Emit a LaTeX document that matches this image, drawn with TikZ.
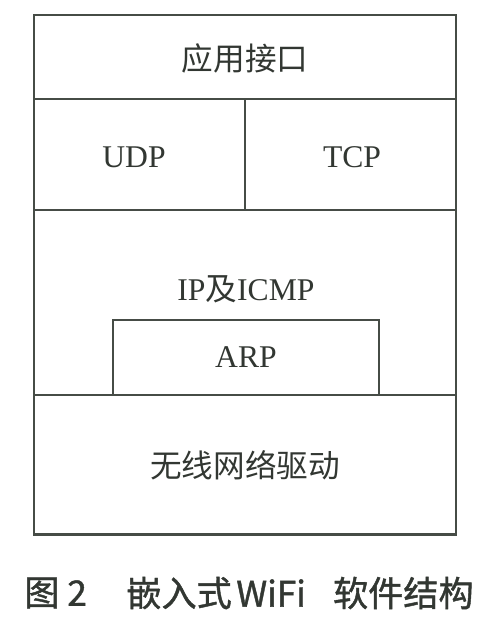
\documentclass[tikz,border=0pt]{standalone}
\usepackage{fontspec}
\usepackage{xcolor}
\usetikzlibrary{positioning}
\setmainfont{Liberation Serif}
\newfontfamily\cjk{Noto Sans CJK SC}
\newfontfamily\cjkcap[FakeBold=1.2]{Noto Sans CJK SC}
\definecolor{stackgray}{RGB}{70,76,70}
\definecolor{stacktext}{RGB}{50,55,50}

\begin{document}
\begin{tikzpicture}[x=0.02cm, y=-0.02cm,
    layer/.style={stackgray, line width=1.7pt},
    lbl/.style={text=stacktext, font=\fontsize{18}{20}\selectfont, inner sep=0pt},
    captext/.style={lbl, font=\fontsize{20}{22}\selectfont\cjkcap}]
    \useasboundingbox (0,0) rectangle (481,622);
    % Layers
    \draw[layer] (34,15) rectangle (456,534);
    \draw[layer] (34,99) -- (456,99);
    \draw[layer] (34,210) -- (456,210);
    \draw[layer] (245,99) -- (245,210);
    \draw[layer] (34,395) -- (456,395);
    \draw[layer] (113,395) -- (113,320) -- (379,320) -- (379,395);
    % Labels
    \node[lbl] (app) at (245,58) {\cjk 应用接口};
    \node[lbl] (udp) at (134,157) {UDP};
    \node[lbl] (tcp) at (352,157) {TCP};
    \node[lbl] (ip) at (246,289) {IP{\cjk 及}ICMP};
    \node[lbl] (arp) at (246,357) {ARP};
    \node[lbl] (drv) at (245,465) {\cjk 无线网络驱动};
    % Caption
    \node[captext, anchor=west] (fig) at (24,593) {图};
    \node[captext, anchor=west] (num) at (67,593) {2};
    \node[captext, anchor=west] (emb) at (126,593) {嵌入式};
    \node[captext, anchor=west] (wifi) at (236,593) {WiFi};
    \node[captext, anchor=east] (soft) at (474,593) {软件结构};
\end{tikzpicture}
\end{document}
